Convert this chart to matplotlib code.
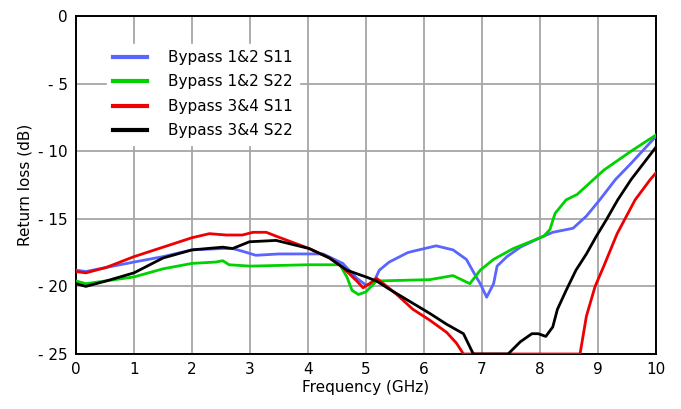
import matplotlib
matplotlib.use("Agg")
import matplotlib.pyplot as plt

# measured return loss curves (frequency in GHz, level in dB)
f_b12_s11 = [0, 0.17, 0.52, 1.0, 1.5, 2.0, 2.53, 2.7, 2.87, 3.1, 3.5, 4.0, 4.26, 4.6, 4.84,
             5.0, 5.12, 5.23, 5.4, 5.72, 5.81, 6.21, 6.5, 6.73, 6.9, 6.97, 7.08, 7.2, 7.26,
             7.43, 7.66, 8.0, 8.22, 8.57, 8.8, 9.03, 9.3, 9.57, 10.0]
db_b12_s11 = [-18.8, -18.9, -18.6, -18.2, -17.8, -17.3, -17.2, -17.2, -17.4, -17.7, -17.6, -17.6,
              -17.6, -18.3, -19.4, -19.9, -19.8, -18.8, -18.2, -17.5, -17.4, -17.0, -17.3,
              -18.0, -19.3, -19.8, -20.8, -19.8, -18.5, -17.8, -17.1, -16.4, -16.0, -15.7,
              -14.8, -13.6, -12.1, -10.9, -8.9]

f_b12_s22 = [0, 0.17, 1.0, 1.5, 2.0, 2.41, 2.53, 2.64, 3.0, 4.0, 4.55, 4.67, 4.76, 4.87, 5.0,
             5.18, 6.1, 6.5, 6.79, 6.97, 7.2, 7.54, 7.83, 8.06, 8.17, 8.26, 8.45, 8.64,
             9.1, 9.57, 10.0]
db_b12_s22 = [-19.6, -19.8, -19.3, -18.7, -18.3, -18.2, -18.1, -18.4, -18.5, -18.4, -18.4,
              -19.3, -20.3, -20.6, -20.4, -19.6, -19.5, -19.2, -19.8, -18.8, -18.0, -17.2,
              -16.7, -16.3, -15.8, -14.6, -13.6, -13.2, -11.4, -10.0, -8.8]

f_b34_s11 = [0, 0.17, 0.52, 1.0, 1.5, 2.0, 2.3, 2.59, 2.87, 3.05, 3.28, 3.52, 4.02, 4.37, 4.6,
             4.84, 4.95, 5.06, 5.18, 5.36, 5.53, 5.81, 6.1, 6.39, 6.56, 6.68, 8.69, 8.8,
             8.95, 9.1, 9.33, 9.64, 9.9, 10.0]
db_b34_s11 = [-18.9, -19.0, -18.6, -17.8, -17.1, -16.4, -16.1, -16.2, -16.2, -16.0, -16.0,
              -16.4, -17.2, -17.9, -18.6, -19.6, -20.1, -19.8, -19.4, -20.0, -20.6, -21.7,
              -22.5, -23.4, -24.2, -25.0, -25.0, -22.2, -20.0, -18.5, -16.1, -13.6, -12.1,
              -11.6]

f_b34_s22 = [0, 0.17, 0.52, 1.0, 1.5, 2.0, 2.53, 2.7, 2.99, 3.45, 4.02, 4.37, 4.67, 4.8,
             5.0, 5.18, 5.4, 5.75, 6.1, 6.39, 6.68, 6.85, 7.45, 7.66, 7.86, 7.97, 8.1,
             8.22, 8.3, 8.45, 8.62, 8.8, 8.97, 9.14, 9.34, 9.57, 10.0]
db_b34_s22 = [-19.8, -20.0, -19.6, -19.0, -17.9, -17.3, -17.1, -17.2, -16.7, -16.6, -17.2,
              -17.9, -18.8, -19.0, -19.3, -19.6, -20.2, -21.1, -22.0, -22.8, -23.5, -25.0,
              -25.0, -24.1, -23.5, -23.5, -23.7, -23.0, -21.7, -20.3, -18.8, -17.6, -16.3,
              -15.1, -13.6, -12.1, -9.7]

labels = ["Bypass 1&2 S11", "Bypass 1&2 S22", "Bypass 3&4 S11", "Bypass 3&4 S22"]
colors = ["#5a64ff", "#00d200", "#ee0000", "#000000"]

x_ticks = list(range(0, 11))
y_ticks = [0, -5, -10, -15, -20, -25]
y_tick_labels = ["0", "- 5", "- 10", "- 15", "- 20", "- 25"]

fig = plt.figure(figsize=(6.81, 4.09), dpi=100)
ax = fig.add_axes([0.1116, 0.1345, 0.8517, 0.8264])

series = [(f_b12_s11, db_b12_s11), (f_b12_s22, db_b12_s22),
          (f_b34_s11, db_b34_s11), (f_b34_s22, db_b34_s22)]
for (f, db), lab, c in zip(series, labels, colors):
    ax.plot(f, db, color=c, lw=2.0, label=lab, zorder=3)

ax.set_xlim(0, 10)
ax.set_ylim(-25, 0)
ax.set_xticks(x_ticks)
ax.set_yticks(y_ticks)
ax.set_yticklabels(y_tick_labels)
ax.tick_params(length=0, labelsize=11, pad=6)
ax.grid(True, color="#a6a6a6", lw=1.3, zorder=0)
for s in ax.spines.values():
    s.set_linewidth(1.4)
    s.set_color("black")

ax.set_xlabel("Frequency (GHz)", fontsize=11, labelpad=2)
ax.set_ylabel("Return loss (dB)", fontsize=11, labelpad=4)

leg = ax.legend(loc="upper left", bbox_to_anchor=(0.04, 0.94), frameon=True,
                fontsize=11, handlelength=2.2, handletextpad=1.4, labelspacing=0.62,
                borderpad=0.4)
leg.get_frame().set_edgecolor("white")
leg.get_frame().set_facecolor("white")
leg.get_frame().set_alpha(1)
for line in leg.get_lines():
    line.set_linewidth(3)

fig.savefig("out.png", dpi=100)
